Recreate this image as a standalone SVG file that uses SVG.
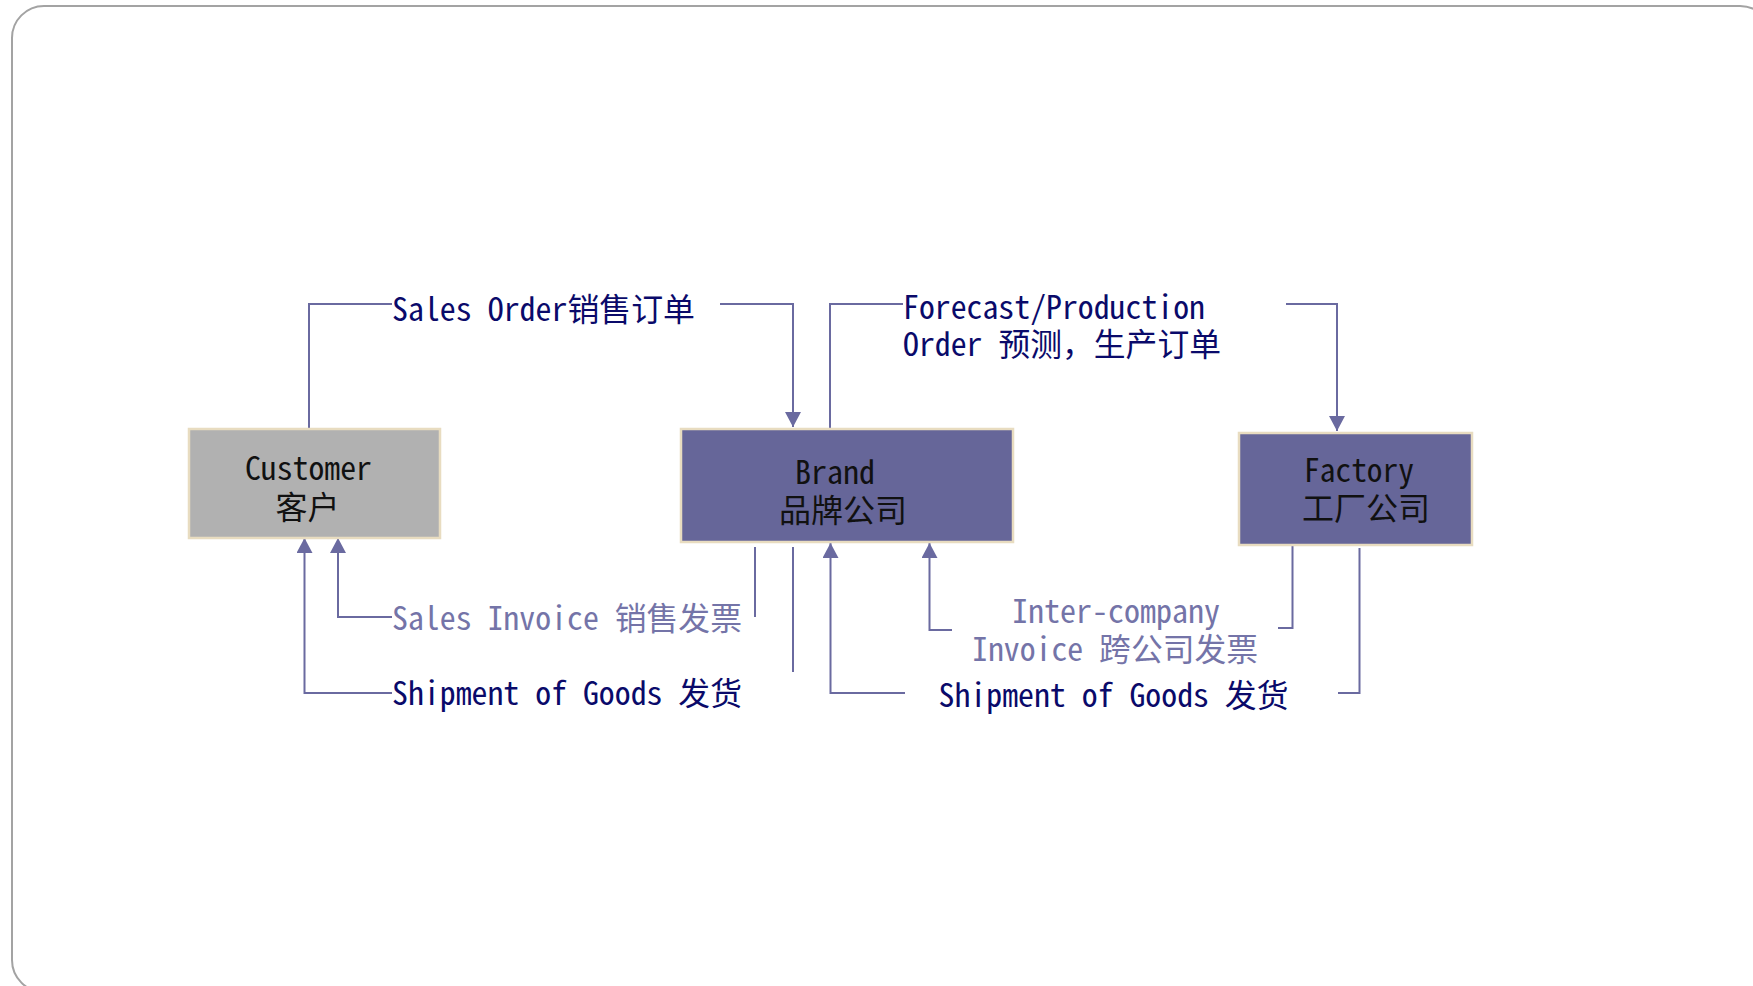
<svg xmlns="http://www.w3.org/2000/svg" width="1753" height="986" viewBox="0 0 1753 986">
<defs>
<style>
.t{font-family:"Noto Sans CJK SC","Liberation Mono",monospace;font-size:32px;font-feature-settings:"hwid" 1;}
.fw{font-feature-settings:normal;}
.dark{fill:#0a0a6a;}
.light{fill:#7474a8;}
.blk{fill:#111111;}
.ln{fill:none;stroke:#6a6aa0;stroke-width:2;}
.arr{marker-end:url(#ah);}
.box{stroke:#e8dcc0;stroke-width:2.5;}
</style>
<marker id="ah" viewBox="0 0 15 16" refX="15" refY="8" markerWidth="15" markerHeight="16" markerUnits="userSpaceOnUse" orient="auto">
<path d="M0,0 L15,8 L0,16 z" fill="#6a6aa0"/>
</marker>
</defs>
<rect x="0" y="0" width="1753" height="986" fill="#ffffff"/>
<rect id="frame" x="12" y="6" width="1760" height="986" rx="32" ry="32" fill="none" stroke="#a3a3a3" stroke-width="2"/>

<g id="connectors">
<path class="ln" d="M309,428 V304 H392"/>
<path class="ln arr" d="M720,304 H793 V427"/>
<path class="ln" d="M830,429 V304 H903"/>
<path class="ln arr" d="M1286,304 H1337 V431"/>
<path class="ln" d="M755,547 V617"/>
<path class="ln arr" d="M392,617 H338 V538"/>
<path class="ln" d="M793,547 V672"/>
<path class="ln arr" d="M392,693 H304.5 V538"/>
<path class="ln" d="M1292.5,545 V628 H1278"/>
<path class="ln arr" d="M952,630 H929.5 V543"/>
<path class="ln" d="M1359.5,548 V693 H1338"/>
<path class="ln arr" d="M905,693 H830.5 V543"/>
</g>

<g id="customer">
<rect class="box" x="189" y="429" width="251" height="109" fill="#b1b1b1"/>
<text class="t blk" x="308.5" y="480" text-anchor="middle" textLength="127" lengthAdjust="spacingAndGlyphs">Customer</text>
<text class="t blk" x="307.5" y="519" text-anchor="middle">客户</text>
</g>

<g id="brand">
<rect class="box" x="681" y="429" width="332" height="113" fill="#666699"/>
<text class="t blk" x="835" y="484" text-anchor="middle" textLength="80" lengthAdjust="spacingAndGlyphs">Brand</text>
<text class="t blk" x="843" y="522" text-anchor="middle">品牌公司</text>
</g>

<g id="factory">
<rect class="box" x="1239" y="433" width="233" height="112" fill="#666699"/>
<text class="t blk" x="1359" y="482" text-anchor="middle" textLength="110" lengthAdjust="spacingAndGlyphs">Factory</text>
<text class="t blk" x="1366" y="520" text-anchor="middle">工厂公司</text>
</g>

<g id="labels">
<text class="t dark" x="392" y="321" textLength="303" lengthAdjust="spacingAndGlyphs">Sales Order销售订单</text>
<text class="t dark" x="903" y="319" textLength="302" lengthAdjust="spacingAndGlyphs">Forecast/Production</text>
<text class="t dark" x="903" y="356" textLength="318" lengthAdjust="spacingAndGlyphs">Order 预测<tspan class="fw">，</tspan>生产订单</text>
<text class="t light" x="392" y="630" textLength="350" lengthAdjust="spacingAndGlyphs">Sales Invoice 销售发票</text>
<text class="t dark" x="392" y="705" textLength="350" lengthAdjust="spacingAndGlyphs">Shipment of Goods 发货</text>
<text class="t light" x="1116" y="623" text-anchor="middle" textLength="208" lengthAdjust="spacingAndGlyphs">Inter-company</text>
<text class="t light" x="1115" y="661" text-anchor="middle" textLength="286" lengthAdjust="spacingAndGlyphs">Invoice 跨公司发票</text>
<text class="t dark" x="938.5" y="707" textLength="350" lengthAdjust="spacingAndGlyphs">Shipment of Goods 发货</text>
</g>
</svg>
